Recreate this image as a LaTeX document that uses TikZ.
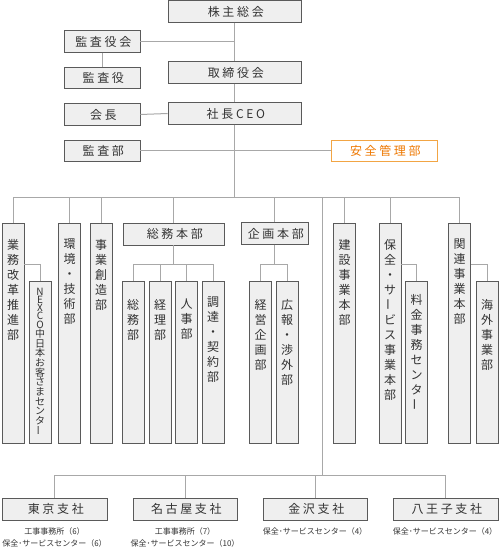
\documentclass[tikz,border=0pt]{standalone}
\usepackage{fontspec}
\usepackage{graphicx}
\setmainfont{Noto Sans CJK JP}
\newfontfamily\lsfont[LetterSpace=22]{Noto Sans CJK JP}
\definecolor{boxfill}{HTML}{EFEFEF}
\definecolor{boxline}{HTML}{5A5A5A}
\definecolor{connc}{HTML}{A8A8A8}
\definecolor{txt}{HTML}{333333}
\definecolor{orgline}{HTML}{F2A544}
\definecolor{orgtxt}{HTML}{EE7800}
\newcommand\LS[1]{{\lsfont #1\kern-0.22em}}
\newcommand\vbar{\raisebox{0.17em}{\rotatebox[origin=c]{90}{ー}}}
\newcommand\vtfont{\fontsize{12pt}{15pt}\selectfont\lineskiplimit=-50pt\relax}
\newcommand\nxfont{\fontsize{10pt}{8.3pt}\selectfont\lineskiplimit=-50pt\relax}
\begin{document}
\begin{tikzpicture}[x=1pt,y=-1pt,
  box/.style={draw=boxline, fill=boxfill, line width=0.9pt, inner sep=0pt, text=txt, font=\fontsize{12pt}{14pt}\selectfont},
  hb/.style={box, minimum height=21.5pt},
  vb/.style={box, minimum width=22pt},
  topv/.style={vb, minimum height=220pt},
  subv/.style={vb, minimum height=162pt},
  vt/.style={inner sep=0pt, align=center, text=txt, anchor=north, font=\vtfont},
  conn/.style={draw=connc, line width=1pt},
  note/.style={inner sep=0pt, text=txt, font=\fontsize{8pt}{10pt}\selectfont}]
\useasboundingbox[fill=white] (0,0) rectangle (500,548);
% top level
\node[hb, minimum width=133pt] (kabu) at (234.5,11.5) {\LS{株主総会}};
\node[hb, minimum width=76pt] (yakukai) at (102,41.5) {\LS{監査役会}};
\node[hb, minimum width=76pt] (yaku) at (102,78) {\LS{監査役}};
\node[hb, minimum width=133pt] (tori) at (234.5,72.5) {\LS{取締役会}};
\node[hb, minimum width=76pt] (kaicho) at (102,114.5) {\LS{会長}};
\node[hb, minimum width=133pt] (shacho) at (234.5,113.5) {\LS{社長CEO}};
\node[hb, minimum width=76pt] (kansabu) at (102,151) {\LS{監査部}};
\node[hb, minimum width=106pt, draw=orgline, fill=white, text=orgtxt] (anzen) at (384,151) {\LS{安全管理部}};
\coordinate (bus) at (0,197);
\coordinate (sub) at (0,264);
\coordinate (bbus) at (0,475);
\coordinate (split) at (322,197);
% departments
\node[topv] (gyomu) at (13,333) {};
\node[vt] (gyomu-t) at ([yshift=-16.5pt]gyomu.north) {業\\務\\改\\革\\推\\進\\部};
\node[subv] (nexco) at (40,362) {};
\node[vt, font=\nxfont] (nexco-t) at ([yshift=-7pt]nexco.north) {N\\E\\X\\C\\O\\[0.8pt]中\\[1.4pt]日\\[1.4pt]本\\[1.4pt]お\\[1.4pt]客\\[1.4pt]さ\\[1.4pt]ま\\[1.4pt]セ\\[1.4pt]ン\\[1.4pt]タ\\[1.4pt]\vbar};
\node[topv] (kankyo) at (69.5,333) {};
\node[vt] (kankyo-t) at ([yshift=-16.5pt]kankyo.north) {環\\境\\・\\技\\術\\部};
\node[topv] (jigyo) at (101,333) {};
\node[vt] (jigyo-t) at ([yshift=-16.5pt]jigyo.north) {事\\業\\創\\造\\部};
\node[hb, minimum width=101pt, minimum height=22pt] (somuhon) at (173.5,234) {\LS{総務本部}};
\node[subv] (somubu) at (133,362) {};
\node[vt] (somubu-t) at ([yshift=-18.5pt]somubu.north) {総\\務\\部};
\node[subv] (keiri) at (160,362) {};
\node[vt] (keiri-t) at ([yshift=-18.5pt]keiri.north) {経\\理\\部};
\node[subv] (jinji) at (186.5,362) {};
\node[vt] (jinji-t) at ([yshift=-18.5pt]jinji.north) {人\\事\\部};
\node[subv] (chotatsu) at (213,362) {};
\node[vt] (chotatsu-t) at ([yshift=-16.5pt]chotatsu.north) {調\\達\\・\\契\\約\\部};
\node[hb, minimum width=67pt] (kikaku) at (274.5,233.5) {\LS{企画本部}};
\node[subv] (keiei) at (260.5,362) {};
\node[vt] (keiei-t) at ([yshift=-18.5pt]keiei.north) {経\\営\\企\\画\\部};
\node[subv] (koho) at (287,362) {};
\node[vt] (koho-t) at ([yshift=-18.5pt]koho.north) {広\\報\\・\\渉\\外\\部};
\node[topv] (kensetsu) at (344.5,333) {};
\node[vt] (kensetsu-t) at ([yshift=-16.5pt]kensetsu.north) {建\\設\\事\\業\\本\\部};
\node[topv] (hozen) at (390,333) {};
\node[vt] (hozen-t) at ([yshift=-16.5pt]hozen.north) {保\\全\\・\\サ\\\vbar\\ビ\\ス\\事\\業\\本\\部};
\node[subv] (ryokin) at (416.5,362) {};
\node[vt] (ryokin-t) at ([yshift=-13.5pt]ryokin.north) {料\\金\\事\\務\\セ\\ン\\タ\\\vbar};
\node[topv] (kanren) at (459.5,333) {};
\node[vt] (kanren-t) at ([yshift=-16.5pt]kanren.north) {関\\連\\事\\業\\本\\部};
\node[subv] (kaigai) at (487,362) {};
\node[vt] (kaigai-t) at ([yshift=-18.5pt]kaigai.north) {海\\外\\事\\業\\部};
% branches
\node[hb, minimum width=105pt, minimum height=22pt] (tokyo) at (54.5,509) {\LS{東京支社}};
\node[hb, minimum width=104pt, minimum height=22pt] (nagoya) at (185,509) {\LS{名古屋支社}};
\node[hb, minimum width=104pt, minimum height=22pt] (kanazawa) at (315,509) {\LS{金沢支社}};
\node[hb, minimum width=105pt, minimum height=22pt] (hachioji) at (445.5,509) {\LS{八王子支社}};
\node[note] (tokyo-a) at (54.5,531) {工事事務所（6）};
\node[note] (tokyo-b) at (54.5,543) {保全･サービスセンター（6）};
\node[note] (nagoya-a) at (185,531) {工事事務所（7）};
\node[note] (nagoya-b) at (185,543) {保全･サービスセンター（10）};
\node[note] (kanazawa-a) at (315,531) {保全･サービスセンター（4）};
\node[note] (hachioji-a) at (445,531) {保全･サービスセンター（4）};
% connectors
\draw[conn] (kabu.south) -- (tori.north);
\draw[conn] (yakukai.east) -- (yakukai.east -| kabu.south);
\draw[conn] (yakukai.south) -- (yaku.north);
\draw[conn] (tori.south) -- (shacho.north);
\draw[conn] (kaicho.east) -- (shacho.west);
\draw[conn] (kansabu.east) -- (anzen.west);
\draw[conn] (shacho.south) -- (shacho.south |- bus);
\draw[conn] (gyomu.north |- bus) -- (kanren.north |- bus);
\foreach \n in {gyomu,kankyo,jigyo,somuhon,kikaku,kensetsu,hozen,kanren}
  \draw[conn] (\n.north |- bus) -- (\n.north);
\draw[conn] (gyomu.east |- sub) -| (nexco.north);
\draw[conn] (hozen.east |- sub) -| (ryokin.north);
\draw[conn] (kanren.east |- sub) -| (kaigai.north);
\draw[conn] (somuhon.south) -- (somuhon.south |- sub);
\draw[conn] (somubu.north |- sub) -- (chotatsu.north |- sub);
\foreach \n in {somubu,keiri,jinji,chotatsu}
  \draw[conn] (\n.north |- sub) -- (\n.north);
\draw[conn] (kikaku.south) -- (kikaku.south |- sub);
\draw[conn] (keiei.north |- sub) -- (koho.north |- sub);
\foreach \n in {keiei,koho}
  \draw[conn] (\n.north |- sub) -- (\n.north);
\draw[conn] (split) -- (split |- bbus);
\draw[conn] (tokyo.north |- bbus) -- (hachioji.north |- bbus);
\foreach \n in {tokyo,nagoya,kanazawa,hachioji}
  \draw[conn] (\n.north |- bbus) -- (\n.north);
\end{tikzpicture}
\end{document}
